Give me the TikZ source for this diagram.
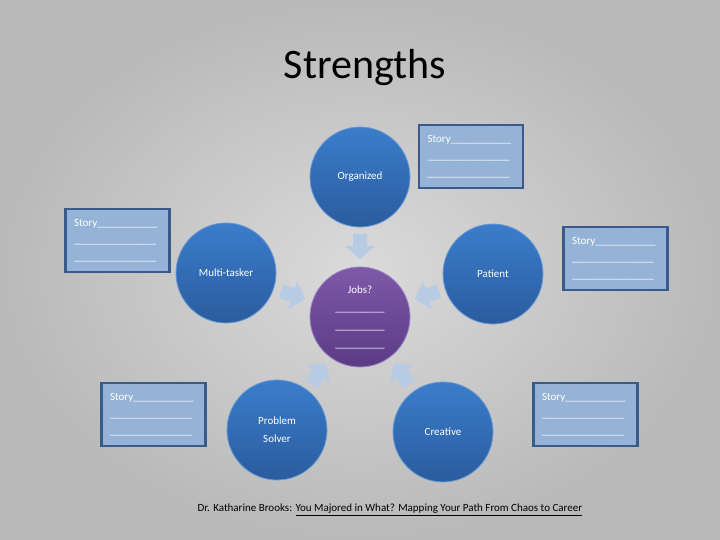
\documentclass[tikz,border=0pt]{standalone}
\usepackage{fontspec}
\setmainfont{Carlito}
\usetikzlibrary{positioning}

\definecolor{bgin}{HTML}{DADADA}
\definecolor{bgout}{HTML}{B9B9B9}
\definecolor{blutop}{HTML}{3B7DCB}
\definecolor{blubot}{HTML}{2A5C9E}
\definecolor{bluedge}{HTML}{6A9AD6}
\definecolor{purtop}{HTML}{7F58AA}
\definecolor{purbot}{HTML}{5A3B85}
\definecolor{puredge}{HTML}{9C82C4}
\definecolor{storyfill}{HTML}{95B3D7}
\definecolor{storyedge}{HTML}{3A5A8C}
\definecolor{arrowfill}{HTML}{B8CBE4}

\begin{document}
\begin{tikzpicture}[x=1pt, y=1pt,
  strength/.style={circle, minimum size=100pt, inner sep=0pt, draw=bluedge, line width=0.8pt,
    top color=blutop, bottom color=blubot, text=white, font=\fontsize{11}{18}\selectfont, align=center},
  jobsdisk/.style={strength, draw=puredge, top color=purtop, bottom color=purbot},
  story/.style={rectangle, draw=storyedge, line width=2.4pt, fill=storyfill, minimum width=104pt,
    minimum height=63pt, text width=87pt, inner sep=0pt, align=left, text=white,
    font=\fontsize{11}{17}\selectfont},
  blockarrow/.style={fill=arrowfill, draw=none}]
  \useasboundingbox (0,0) rectangle (720,540);
  \shade[inner color=bgin, outer color=bgout] (0,0) rectangle (720,540);

  \node[font=\fontsize{42}{42}\selectfont] (title) at (365,472) {Strengths};

  \node[jobsdisk] (jobs) at (360,223) {Jobs?\\\_\_\_\_\_\_\_\_\_\\\_\_\_\_\_\_\_\_\_\\\_\_\_\_\_\_\_\_\_};
  \node[strength] (org)   at (360,363) {Organized};
  \node[strength] (multi) at (226,267) {Multi-tasker};
  \node[strength] (pat)   at (493,266) {Patient};
  \node[strength] (prob)  at (277,110) {Problem\\Solver};
  \node[strength] (crea)  at (443,108) {Creative};

  \foreach \a in {90,162,234,306,18}
    \fill[blockarrow, shift={(jobs.center)}, rotate=\a-90]
      (-7,83) -- (7,83) -- (7,71) -- (15,71) -- (0,58) -- (-15,71) -- (-7,71) -- cycle;

  \node[story] (s1) at (471,383.5) {Story\_\_\_\_\_\_\_\_\_\_\_\\\_\_\_\_\_\_\_\_\_\_\_\_\_\_\_\\\_\_\_\_\_\_\_\_\_\_\_\_\_\_\_};
  \node[story] (s2) at (117.5,299.5) {Story\_\_\_\_\_\_\_\_\_\_\_\\\_\_\_\_\_\_\_\_\_\_\_\_\_\_\_\\\_\_\_\_\_\_\_\_\_\_\_\_\_\_\_};
  \node[story] (s3) at (615.5,281.5) {Story\_\_\_\_\_\_\_\_\_\_\_\\\_\_\_\_\_\_\_\_\_\_\_\_\_\_\_\\\_\_\_\_\_\_\_\_\_\_\_\_\_\_\_};
  \node[story] (s4) at (153.5,125.5) {Story\_\_\_\_\_\_\_\_\_\_\_\\\_\_\_\_\_\_\_\_\_\_\_\_\_\_\_\\\_\_\_\_\_\_\_\_\_\_\_\_\_\_\_};
  \node[story] (s5) at (585.5,125.5) {Story\_\_\_\_\_\_\_\_\_\_\_\\\_\_\_\_\_\_\_\_\_\_\_\_\_\_\_\\\_\_\_\_\_\_\_\_\_\_\_\_\_\_\_};

  \node[font=\fontsize{11}{13}\selectfont] (cite) at (390,30)
    {Dr. Katharine Brooks: \underline{You Majored in What? Mapping Your Path From Chaos to Career}};
\end{tikzpicture}
\end{document}
